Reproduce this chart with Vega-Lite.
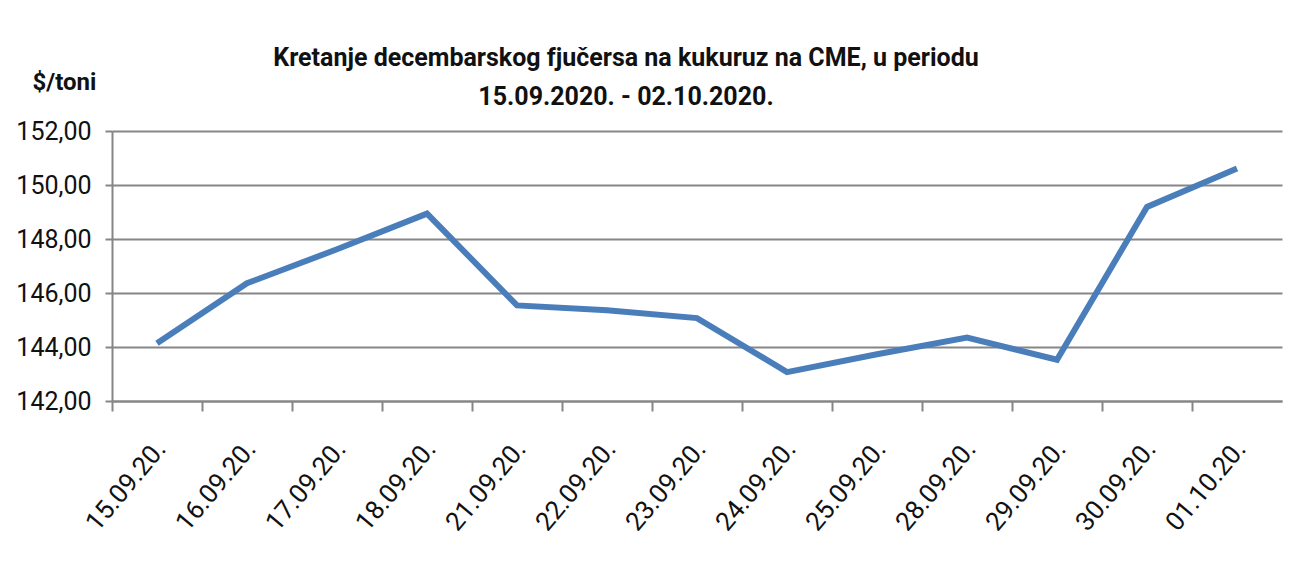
{
  "$schema": "https://vega.github.io/schema/vega-lite/v6.json",
  "autosize": "none",
  "width": 1170,
  "height": 270,
  "padding": {"left": 112, "top": 131, "right": 14, "bottom": 169},
  "background": "white",
  "title": {
    "text": ["Kretanje decembarskog fjučersa na  kukuruz na CME, u periodu", "15.09.2020. - 02.10.2020."],
    "anchor": "middle",
    "dx": -71,
    "offset": -40,
    "font": "Roboto",
    "fontSize": 25,
    "fontWeight": "bold",
    "lineHeight": 39,
    "color": "#111111"
  },
  "data": {
    "values": [
      {"datum": "15.09.20.", "cijena": 144.14},
      {"datum": "16.09.20.", "cijena": 146.36},
      {"datum": "17.09.20.", "cijena": 147.62},
      {"datum": "18.09.20.", "cijena": 148.94},
      {"datum": "21.09.20.", "cijena": 145.54},
      {"datum": "22.09.20.", "cijena": 145.36},
      {"datum": "23.09.20.", "cijena": 145.07},
      {"datum": "24.09.20.", "cijena": 143.07},
      {"datum": "25.09.20.", "cijena": 143.73},
      {"datum": "28.09.20.", "cijena": 144.35},
      {"datum": "29.09.20.", "cijena": 143.53},
      {"datum": "30.09.20.", "cijena": 149.19},
      {"datum": "01.10.20.", "cijena": 150.61}
    ]
  },
  "mark": {"type": "line", "color": "#4a7ebb", "strokeWidth": 6, "strokeJoin": "miter"},
  "encoding": {
    "x": {
      "field": "datum",
      "type": "ordinal",
      "sort": null,
      "scale": {"type": "band", "paddingInner": 0, "paddingOuter": 0},
      "axis": {
        "title": null,
        "bandPosition": 0,
        "grid": false,
        "domainColor": "#868686",
        "domainWidth": 2,
        "tickColor": "#868686",
        "tickWidth": 2,
        "tickSize": 10,
        "labelAngle": -50,
        "labelAlign": "right",
        "labelBaseline": "middle",
        "labelPadding": 33,
        "labelOffset": 4,
        "labelFont": "Roboto",
        "labelFontSize": 26,
        "labelColor": "#111111"
      }
    },
    "y": {
      "field": "cijena",
      "type": "quantitative",
      "scale": {"domain": [142, 152], "nice": false, "zero": false},
      "axis": {
        "values": [142, 144, 146, 148, 150, 152],
        "labelExpr": "replace(format(datum.value, '.2f'), '.', ',')",
        "title": "$/toni",
        "titleAngle": 0,
        "titleX": -48,
        "titleY": -49,
        "titleAlign": "center",
        "titleBaseline": "middle",
        "titleFont": "Roboto",
        "titleFontSize": 24,
        "titleFontWeight": "bold",
        "titleColor": "#111111",
        "grid": true,
        "gridColor": "#868686",
        "gridWidth": 2,
        "domainColor": "#868686",
        "domainWidth": 2,
        "tickColor": "#868686",
        "tickWidth": 2,
        "tickSize": 7,
        "labelPadding": 14,
        "labelFont": "Roboto",
        "labelFontSize": 25,
        "labelColor": "#111111"
      }
    }
  },
  "config": {
    "view": {"stroke": null}
  }
}
